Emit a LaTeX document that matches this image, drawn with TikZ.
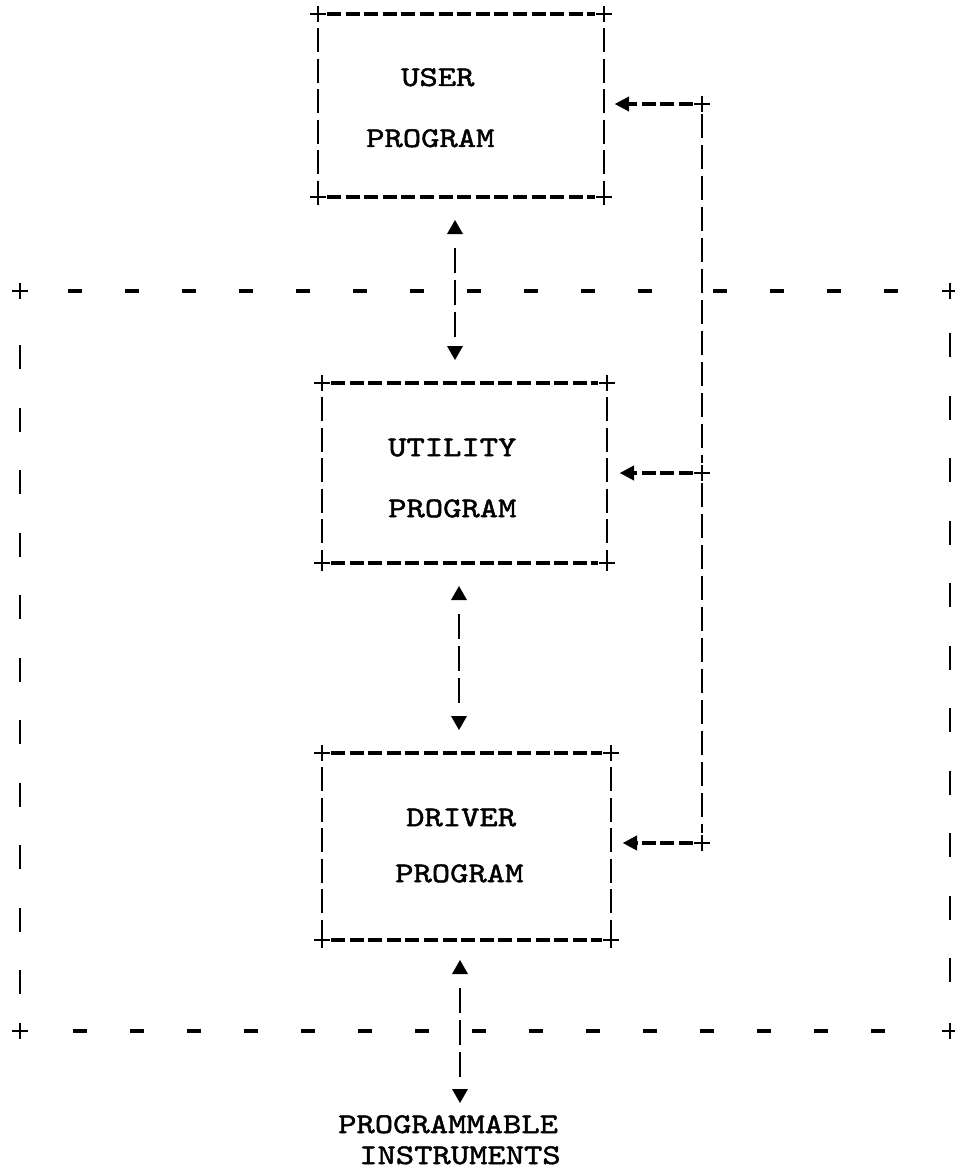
\documentclass[tikz,border=0pt]{standalone}
\usepackage{fontspec}
\newfontfamily\twfont{lmmono10-regular.otf}[FakeStretch=1.22,FakeBold=1.6]
\usetikzlibrary{arrows.meta,calc}
\begin{document}
\begin{tikzpicture}[x=1pt,y=-1pt,
  frame/.style={rectangle, draw=none, inner sep=0pt, outer sep=0pt},
  hdash/.style={line width=3.6pt, dash pattern=on 14pt off 4.6pt},
  vdash/.style={line width=2.4pt, dash pattern=on 24pt off 6.5pt},
  adash/.style={line width=2.4pt, dash pattern=on 25pt off 7pt},
  cdash/.style={line width=2.4pt, dash pattern=on 24pt off 7pt},
  ohdash/.style={line width=3.8pt, dash pattern=on 14pt off 43pt},
  ovdash/.style={line width=2.4pt, dash pattern=on 24pt off 38.5pt},
  txt/.style={font=\twfont\fontsize{28.6}{61}\selectfont, align=left, inner sep=0pt, anchor=north west},
  headtip/.style={-{Triangle[length=14pt,width=15pt,line width=0.5pt]}},
  plusmk/.pic={\draw[line width=2.6pt] (-8,0) -- (8,0) (0,-8) -- (0,8);},
]
\useasboundingbox (0,0) rectangle (955,1171);

% boxes
\node[frame, minimum width=286pt, minimum height=183pt] (user) at (461,105.5) {};
\node[frame, minimum width=285pt, minimum height=180pt] (util) at (464.5,473) {};
\node[frame, minimum width=289pt, minimum height=187pt] (driver) at (466.5,846.5) {};
\node[frame, minimum width=930pt, minimum height=740pt] (outer) at (485,661) {};

\foreach \b in {user,util,driver}{
  \draw[hdash, shorten <=9pt, shorten >=9pt] (\b.north west) -- (\b.north east);
  \draw[hdash, shorten <=9pt, shorten >=9pt] (\b.south west) -- (\b.south east);
  \draw[vdash, shorten <=14pt, shorten >=8pt] (\b.north west) -- (\b.south west);
  \draw[vdash, shorten <=14pt, shorten >=8pt] (\b.north east) -- (\b.south east);
  \pic at (\b.north west) {plusmk};
  \pic at (\b.north east) {plusmk};
  \pic at (\b.south west) {plusmk};
  \pic at (\b.south east) {plusmk};
}

% texts
\node[txt] (usertxt) at (366,68) {\hspace*{35pt}USER\\PROGRAM};
\node[txt] (utiltxt) at (388,438.5) {UTILITY\\PROGRAM};
\node[txt] (drivertxt) at (395,808.5) {\hspace*{11pt}DRIVER\\[-5pt]PROGRAM};
\node[txt, font=\twfont\fontsize{28.6}{31}\selectfont] (instr) at (338,1115) {PROGRAMMABLE\\\hspace*{21pt}INSTRUMENTS};

% right-hand connector
\coordinate (c1) at (702,104);
\coordinate (c2) at (702,473);
\coordinate (c3) at (702,843);
\coordinate (ox) at (c1 |- outer.north);

% outer box
\draw[ohdash, shorten <=48pt, shorten >=10pt] (outer.north west) -- (ox);
\draw[ohdash, shorten <=11pt, shorten >=51pt] (ox) -- (outer.north east);
\draw[ohdash, shorten <=53pt, shorten >=65pt] (outer.south west) -- (outer.south east);
\draw[ovdash, shorten <=54pt, shorten >=36pt] (outer.north west) -- (outer.south west);
\draw[ovdash, shorten <=42pt, shorten >=36pt] (outer.north east) -- (outer.south east);
\pic at (outer.north west) {plusmk};
\pic at (outer.north east) {plusmk};
\pic at (outer.south west) {plusmk};
\pic at (outer.south east) {plusmk};

\draw[cdash, shorten <=10pt, shorten >=10pt] (c1) -- (c2);
\draw[cdash, shorten <=10pt, shorten >=10pt] (c2) -- (c3);
\pic at (c1) {plusmk};
\pic at (c2) {plusmk};
\pic at (c3) {plusmk};
\draw[hdash, headtip, shorten <=9pt] (c1) -- ($(c1 -| user.east)+(11,0)$);
\draw[hdash, headtip, shorten <=9pt] (c2) -- ($(c2 -| util.east)+(13,0)$);
\draw[hdash, headtip, shorten <=9pt] (c3) -- ($(c3 -| driver.east)+(12,0)$);

% vertical two-way arrows
\coordinate (t1) at ($(user.south)+(-6,23)$);
\coordinate (t2) at ($(util.north)+(-9.5,-23)$);
\coordinate (t3) at ($(util.south)+(-5.5,23)$);
\coordinate (t4) at ($(driver.north)+(-7.5,-23)$);
\coordinate (t5) at ($(driver.south)+(-6.5,20)$);
\coordinate (t6) at ($(instr.north west)+(122,-12)$);
\foreach \a/\z in {t1/t2,t3/t4,t5/t6}{
  \draw[adash, shorten <=28pt, shorten >=23pt] (\a) -- (\z);
  \fill (\a) -- ++(-8,14) -- ++(16,0) -- cycle;
  \fill (\z) -- ++(-8,-14) -- ++(16,0) -- cycle;
}
\end{tikzpicture}
\end{document}
